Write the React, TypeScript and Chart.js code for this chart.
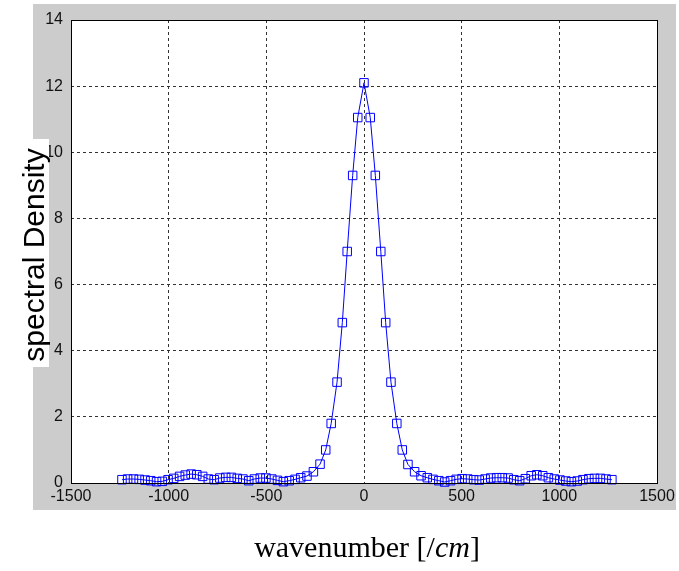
import React, { useEffect, useRef } from 'react';
import Chart from 'chart.js/auto';

const wavenumbers: number[] = [
  -1239, -1210, -1180, -1151, -1121, -1092, -1062, -1033, -1003, -974,
  -944, -915, -885, -856, -826, -797, -767, -738, -708, -679,
  -649, -620, -590, -561, -531, -502, -472, -443,
  -413, -383, -353, -324, -292, -259, -225, -196, -168, -138, -111, -86, -58, -32,
  0,
  32, 58, 86, 111, 138, 168, 196, 225, 259, 292, 324, 353, 383, 413,
  443, 472, 502, 531, 561, 590, 620, 649, 679, 708,
  738, 767, 797, 826, 856, 885, 915, 944, 974, 1003,
  1033, 1062, 1092, 1121, 1151, 1180, 1210, 1239, 1269,
];

const density: number[] = [
  0.10, 0.12, 0.12, 0.11, 0.09, 0.07, 0.04, 0.05, 0.10, 0.14,
  0.20, 0.24, 0.27, 0.25, 0.20, 0.12, 0.10, 0.15, 0.17, 0.17,
  0.14, 0.12, 0.07, 0.12, 0.15, 0.15, 0.12, 0.08,
  0.04, 0.07, 0.11, 0.16, 0.21, 0.34, 0.57, 1.0, 1.8, 3.05, 4.85, 7.0, 9.3, 11.05,
  12.1,
  11.05, 9.3, 7.0, 4.85, 3.05, 1.8, 1.0, 0.56, 0.34, 0.22, 0.16, 0.11, 0.07, 0.03,
  0.07, 0.11, 0.13, 0.12, 0.10, 0.09, 0.12, 0.15, 0.16, 0.16,
  0.15, 0.10, 0.07, 0.13, 0.22, 0.25, 0.22, 0.16, 0.12, 0.09,
  0.06, 0.04, 0.06, 0.10, 0.13, 0.14, 0.14, 0.12, 0.10,
];

const xTicks: number[] = [-1500, -1000, -500, 0, 500, 1000, 1500];
const yTicks: number[] = [0, 2, 4, 6, 8, 10, 12, 14];

const xTitleParts: { text: string; italic: boolean }[] = [
  { text: 'wavenumber [/', italic: false },
  { text: 'cm', italic: true },
  { text: ']', italic: false },
];
const yTitle = 'spectral Density';

const W = 679;
const H = 571;

const framePlugin = {
  id: 'matlabFrame',
  beforeDraw(chart: any) {
    const { ctx, chartArea } = chart;
    ctx.save();
    ctx.fillStyle = '#ffffff';
    ctx.fillRect(0, 0, W, H);
    ctx.fillStyle = '#cccccc';
    ctx.fillRect(33, 4, 643, 506);
    ctx.fillStyle = '#ffffff';
    ctx.fillRect(chartArea.left, chartArea.top, chartArea.right - chartArea.left, chartArea.bottom - chartArea.top);
    ctx.restore();
  },
  afterDatasetsDraw(chart: any) {
    const { ctx, chartArea } = chart;
    ctx.save();
    ctx.strokeStyle = '#000000';
    ctx.lineWidth = 1;
    ctx.setLineDash([]);
    ctx.strokeRect(
      Math.round(chartArea.left) + 0.5,
      Math.round(chartArea.top) + 0.5,
      Math.round(chartArea.right - chartArea.left),
      Math.round(chartArea.bottom - chartArea.top)
    );
    ctx.fillStyle = '#ffffff';
    ctx.fillRect(10, 139, 39, 228);
    ctx.fillStyle = '#000000';
    ctx.font = '30px "Liberation Sans", Arial, sans-serif';
    ctx.translate(44, 255);
    ctx.rotate(-Math.PI / 2);
    ctx.textAlign = 'center';
    ctx.textBaseline = 'alphabetic';
    ctx.fillText(yTitle, 0, 0);
    ctx.restore();

    ctx.save();
    ctx.fillStyle = '#000000';
    ctx.textBaseline = 'alphabetic';
    ctx.textAlign = 'left';
    const fontFor = (it: boolean) => (it ? 'italic ' : '') + '30px "Liberation Serif", "Times New Roman", serif';
    let total = 0;
    for (const p of xTitleParts) {
      ctx.font = fontFor(p.italic);
      total += ctx.measureText(p.text).width;
    }
    let x = 367 - total / 2;
    for (const p of xTitleParts) {
      ctx.font = fontFor(p.italic);
      ctx.fillText(p.text, x, 557);
      x += ctx.measureText(p.text).width;
    }
    ctx.restore();
  },
};

export default function App() {
  const ref = useRef<HTMLCanvasElement | null>(null);

  useEffect(() => {
    document.body.style.margin = '0';
    if (!ref.current) return;
    const tickFont = { family: '"Liberation Sans", Arial, sans-serif', size: 16 };
    const chart = new Chart(ref.current, {
      type: 'line',
      data: {
        datasets: [
          {
            data: wavenumbers.map((x, i) => ({ x, y: density[i] })),
            borderColor: '#0000ff',
            borderWidth: 1,
            pointStyle: 'rect',
            pointRadius: 6,
            pointBorderColor: '#0000ff',
            pointBackgroundColor: 'rgba(0,0,0,0)',
            pointBorderWidth: 1,
            tension: 0,
            fill: false,
            clip: false,
          } as any,
        ],
      },
      options: {
        responsive: false,
        animation: false,
        devicePixelRatio: 1,
        layout: { padding: { left: 0, top: 20, right: 22, bottom: 66 } },
        plugins: { legend: { display: false }, tooltip: { enabled: false } },
        scales: {
          x: {
            type: 'linear',
            min: -1500,
            max: 1500,
            afterBuildTicks: (s: any) => {
              s.ticks = xTicks.map((v) => ({ value: v }));
            },
            afterFit: (s: any) => {
              s.height = 22;
            },
            grid: { color: '#333333', lineWidth: 1, drawTicks: false, borderDash: [3, 3] } as any,
            border: { display: false, dash: [3, 3] },
            ticks: {
              color: '#111111',
              padding: 4,
              maxRotation: 0,
              autoSkip: false,
              font: tickFont,
              callback: (v: any) => String(v),
            },
          },
          y: {
            type: 'linear',
            min: 0,
            max: 14,
            afterBuildTicks: (s: any) => {
              s.ticks = yTicks.map((v) => ({ value: v }));
            },
            afterFit: (s: any) => {
              s.width = 71;
            },
            grid: { color: '#333333', lineWidth: 1, drawTicks: false, borderDash: [3, 3] } as any,
            border: { display: false, dash: [3, 3] },
            ticks: {
              color: '#111111',
              padding: 8,
              font: tickFont,
              callback: (v: any) => String(v),
            },
          },
        },
      },
      plugins: [framePlugin],
    });
    return () => chart.destroy();
  }, []);

  return (
    <div style={{ position: 'fixed', left: 0, top: 0, width: W, height: H }}>
      <canvas ref={ref} width={W} height={H} style={{ width: W, height: H }} />
    </div>
  );
}
